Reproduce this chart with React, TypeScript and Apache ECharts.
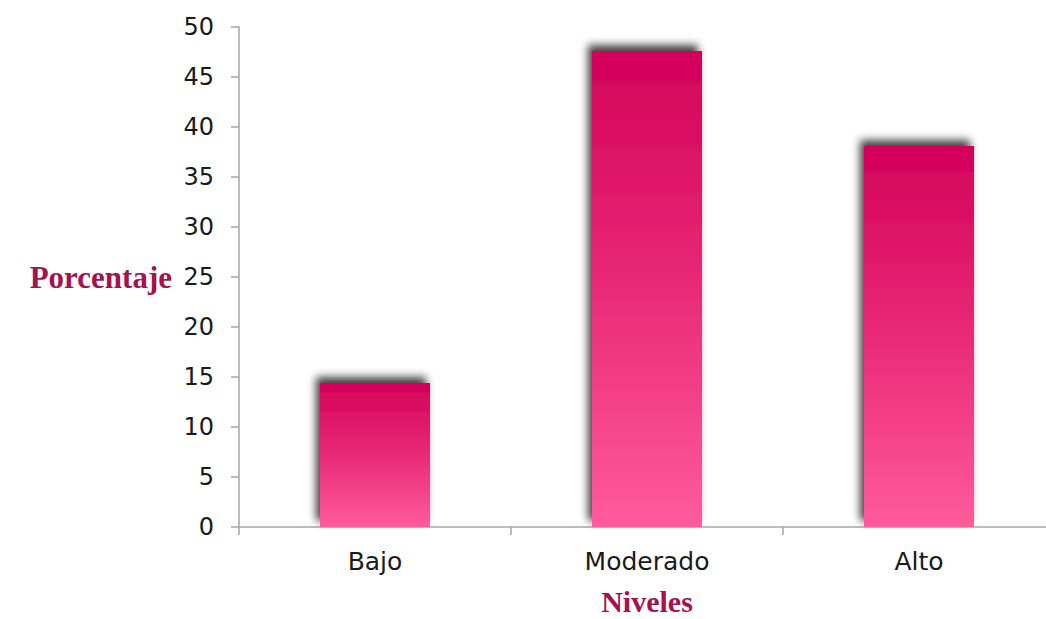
import React, { useEffect, useRef } from "react";
import * as echarts from "echarts";

const categories = ["Bajo", "Moderado", "Alto"];
const values = [14.4, 47.6, 38.1];
const yMin = 0;
const yMax = 50;
const yInterval = 5;
const xTitle = "Niveles";
const yTitle = "Porcentaje";

export default function App() {
  const ref = useRef<HTMLDivElement>(null);
  useEffect(() => {
    if (!ref.current) return;
    const chart = echarts.init(ref.current, null, { renderer: "svg" });
    const titleStyle = {
      fontFamily: "Liberation Serif, serif",
      fontWeight: "bold" as const,
      fontSize: 31,
      color: "#a5124f",
    };
    chart.setOption({
      animation: false,
      backgroundColor: "#ffffff",
      grid: {
        left: 239,
        right: -9,
        top: 27,
        bottom: 92,
        containLabel: false,
        outerBoundsMode: "none",
      },
      xAxis: {
        type: "category",
        data: categories,
        name: xTitle,
        nameLocation: "middle",
        nameGap: 59,
        nameTextStyle: { ...titleStyle, fontSize: 30 },
        axisLine: { lineStyle: { color: "#a6a6a6", width: 1.5 } },
        axisTick: { show: true, length: 8, lineStyle: { color: "#a6a6a6", width: 1.5 } },
        axisLabel: {
          margin: 22,
          fontSize: 25,
          color: "#1a1a1a",
          fontFamily: "DejaVu Sans, sans-serif",
        },
      },
      yAxis: {
        type: "value",
        min: yMin,
        max: yMax,
        interval: yInterval,
        name: yTitle,
        nameLocation: "middle",
        nameRotate: 0,
        nameGap: 67,
        nameTextStyle: titleStyle,
        splitLine: { show: false },
        axisLine: { show: true, lineStyle: { color: "#a6a6a6", width: 1.5 } },
        axisTick: { show: true, length: 8, lineStyle: { color: "#a6a6a6", width: 1.5 } },
        axisLabel: {
          margin: 25,
          fontSize: 24,
          color: "#1a1a1a",
          fontFamily: "DejaVu Sans, sans-serif",
        },
      },
      series: [
        {
          type: "bar",
          data: values,
          barWidth: 110,
          itemStyle: {
            color: new echarts.graphic.LinearGradient(0, 0, 0, 1, [
              { offset: 0, color: "#d3015a" },
              { offset: 0.5, color: "#e92a76" },
              { offset: 1, color: "#ff5b9c" },
            ]),
            shadowColor: "rgba(0,0,0,0.75)",
            shadowBlur: 8,
            shadowOffsetX: -4,
            shadowOffsetY: -6,
          },
        },
      ],
    });
    return () => chart.dispose();
  }, []);
  return (
    <div
      ref={ref}
      style={{ position: "fixed", left: 0, top: 0, width: 1046, height: 619 }}
    />
  );
}
